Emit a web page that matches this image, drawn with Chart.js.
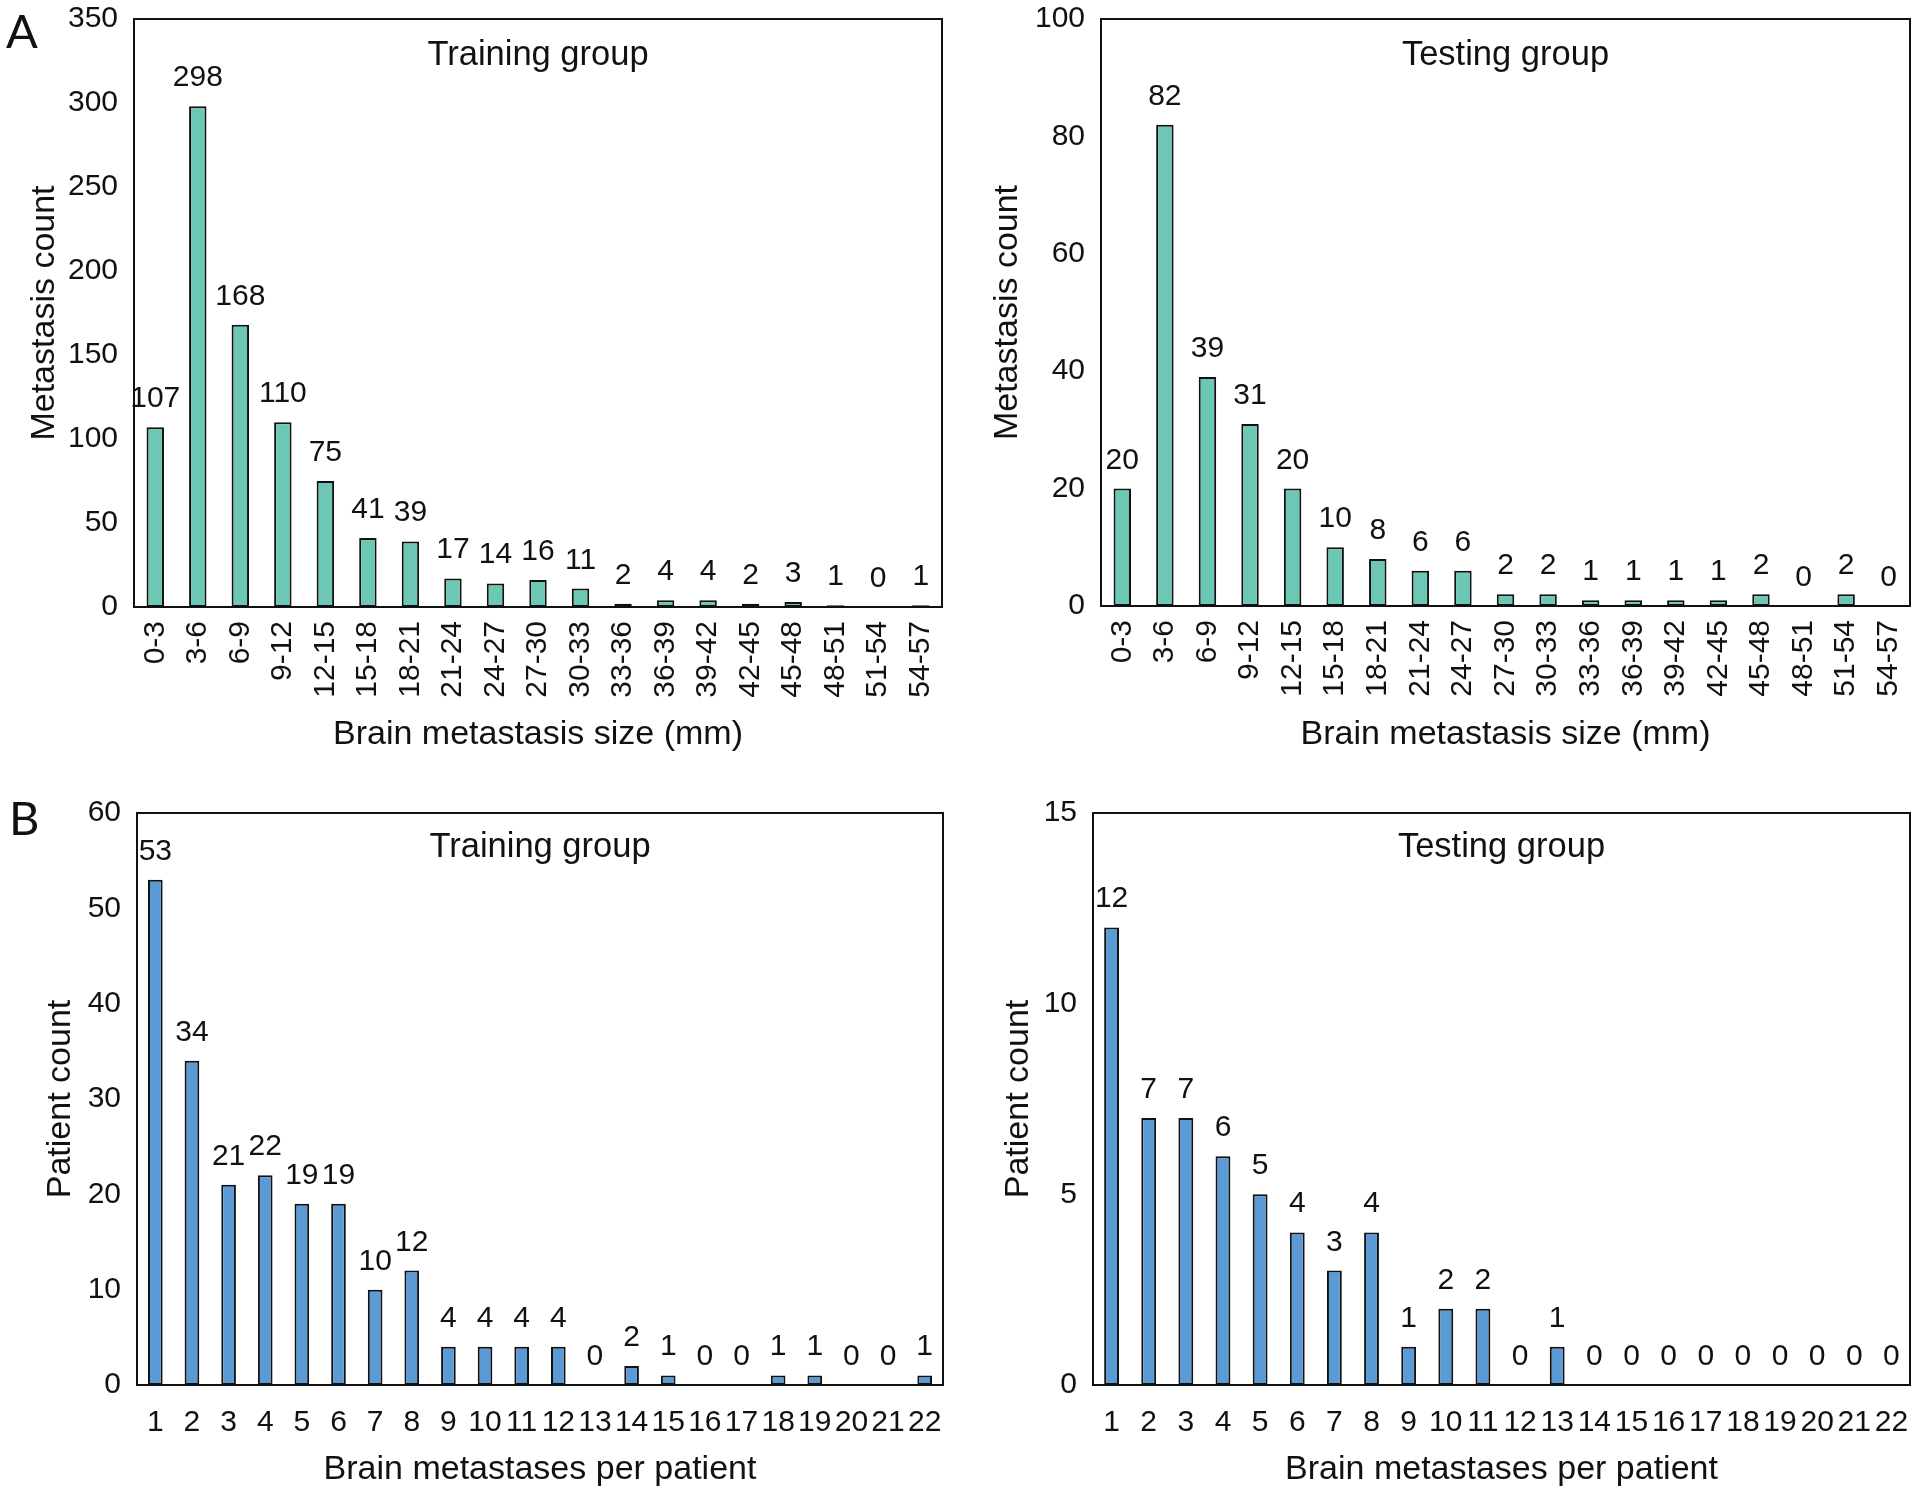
<!DOCTYPE html>
<html><head><meta charset="utf-8">
<script src="https://cdn.jsdelivr.net/npm/chart.js@4.4.1/dist/chart.umd.min.js"></script>
<style>
html,body{margin:0;padding:0;background:#fff;width:1920px;height:1495px;overflow:hidden;}
canvas{position:absolute;}
</style></head><body>
<canvas id="aL" width="960" height="760" style="left:0;top:0;width:960px;height:760px"></canvas>
<canvas id="aR" width="960" height="760" style="left:960px;top:0;width:960px;height:760px"></canvas>
<canvas id="bL" width="960" height="735" style="left:0;top:760px;width:960px;height:735px"></canvas>
<canvas id="bR" width="960" height="735" style="left:960px;top:760px;width:960px;height:735px"></canvas>
<script>
// ---- data ----
const sizeCategories = ['0-3','3-6','6-9','9-12','12-15','15-18','18-21','21-24','24-27','27-30','30-33','33-36','36-39','39-42','42-45','45-48','48-51','51-54','54-57'];
const trainingSizeCounts = [107,298,168,110,75,41,39,17,14,16,11,2,4,4,2,3,1,0,1];
const testingSizeCounts  = [20,82,39,31,20,10,8,6,6,2,2,1,1,1,1,2,0,2,0];
const perPatientCategories = ['1','2','3','4','5','6','7','8','9','10','11','12','13','14','15','16','17','18','19','20','21','22'];
const trainingPerPatient = [53,34,21,22,19,19,10,12,4,4,4,4,0,2,1,0,0,1,1,0,0,1];
const testingPerPatient  = [12,7,7,6,5,4,3,4,1,2,2,0,1,0,0,0,0,0,0,0,0,0];
const panelTitles = ['Training group','Testing group'];
const sizeAxisTitle = 'Brain metastasis size (mm)';
const perPatientAxisTitle = 'Brain metastases per patient';
const metCountTitle = 'Metastasis count';
const patCountTitle = 'Patient count';

const FONT = '"Liberation Sans", Arial, Helvetica, sans-serif';
Chart.defaults.font.family = FONT;
Chart.defaults.color = '#111';
Chart.defaults.devicePixelRatio = 1;

const decor = {
  id: 'decor',
  afterDatasetsDraw(chart, args, o) {
    const {ctx, chartArea: a} = chart;
    ctx.save();
    ctx.strokeStyle = '#111';
    ctx.lineWidth = 2;
    ctx.strokeRect(a.left, a.top, a.right - a.left, a.bottom - a.top);
    ctx.fillStyle = '#111';
    ctx.font = '34.5px ' + FONT;
    ctx.textAlign = 'center';
    ctx.textBaseline = 'middle';
    ctx.fillText(o.title, (a.left + a.right) / 2, a.top + o.titleDy);
    ctx.font = '30px ' + FONT;
    ctx.textBaseline = 'alphabetic';
    const meta = chart.getDatasetMeta(0);
    const vals = chart.data.datasets[0].data;
    meta.data.forEach((bar, i) => {
      ctx.fillText(String(vals[i]), bar.x, bar.y - 20);
    });
    if (o.letter) {
      ctx.font = '47px Lato, "Open Sans", sans-serif';
      ctx.textAlign = 'left';
      ctx.fillText(o.letter, o.letterX, o.letterY);
    }
    ctx.restore();
  }
};

function makeChart(id, cats, vals, c) {
  new Chart(document.getElementById(id), {
    type: 'bar',
    data: { labels: cats, datasets: [{
      data: vals, backgroundColor: c.color, borderColor: '#111', borderWidth: 2,
      borderSkipped: false, barPercentage: c.barPct, categoryPercentage: 1
    }]},
    options: {
      responsive: false, animation: false,
      layout: { padding: { left: 0, top: c.padTop, right: c.padRight, bottom: 0 } },
      plugins: { legend: { display: false }, tooltip: { enabled: false },
        decor: { title: c.title, titleDy: c.titleDy, letter: c.letter, letterX: c.letterX, letterY: c.letterY } },
      scales: {
        x: {
          grid: { display: false, drawTicks: false }, border: { display: false },
          ticks: { autoSkip: false, minRotation: c.rot, maxRotation: c.rot, padding: c.xPad, font: { size: 30 }, color: '#111' },
          title: { display: true, text: c.xTitle, font: { size: 34 }, color: '#111', padding: { top: 0, bottom: 5 } },
          afterFit(s) { s.height = c.xHeight; s.paddingLeft = 0; s.paddingRight = 0; }
        },
        y: {
          min: 0, max: c.yMax,
          grid: { display: false, drawTicks: false }, border: { display: false },
          ticks: { stepSize: c.step, padding: 16, font: { size: 30 }, color: '#111' },
          title: { display: true, text: c.yTitle, font: { size: 34 }, color: '#111', padding: { top: c.yTitlePad, bottom: 0 } },
          afterFit(s) { s.width = c.yWidth; s.paddingTop = 0; s.paddingBottom = 0; }
        }
      }
    },
    plugins: [decor]
  });
}

const teal = '#6cc8b4';
const blue = '#5b9bd5';

makeChart('aL', sizeCategories, trainingSizeCounts, {
  color: teal, barPct: 0.41, padTop: 19, padRight: 18, yWidth: 134, xHeight: 153,
  yMax: 350, step: 50, rot: 90, xPad: 14, title: panelTitles[0], titleDy: 36,
  xTitle: sizeAxisTitle, yTitle: metCountTitle, yTitlePad: 24, letter: 'A', letterX: 6, letterY: 48 });
makeChart('aR', sizeCategories, testingSizeCounts, {
  color: teal, barPct: 0.41, padTop: 19, padRight: 10, yWidth: 141, xHeight: 154,
  yMax: 100, step: 20, rot: 90, xPad: 14, title: panelTitles[1], titleDy: 36,
  xTitle: sizeAxisTitle, yTitle: metCountTitle, yTitlePad: 27 });
makeChart('bL', perPatientCategories, trainingPerPatient, {
  color: blue, barPct: 0.4, padTop: 53, padRight: 17, yWidth: 137, xHeight: 110,
  yMax: 60, step: 10, rot: 0, xPad: 20, title: panelTitles[0], titleDy: 34,
  xTitle: perPatientAxisTitle, yTitle: patCountTitle, yTitlePad: 40, letter: 'B', letterX: 9, letterY: 75 });
makeChart('bR', perPatientCategories, testingPerPatient, {
  color: blue, barPct: 0.4, padTop: 53, padRight: 10, yWidth: 133, xHeight: 110,
  yMax: 15, step: 5, rot: 0, xPad: 20, title: panelTitles[1], titleDy: 34,
  xTitle: perPatientAxisTitle, yTitle: patCountTitle, yTitlePad: 38 });
</script>
</body></html>
